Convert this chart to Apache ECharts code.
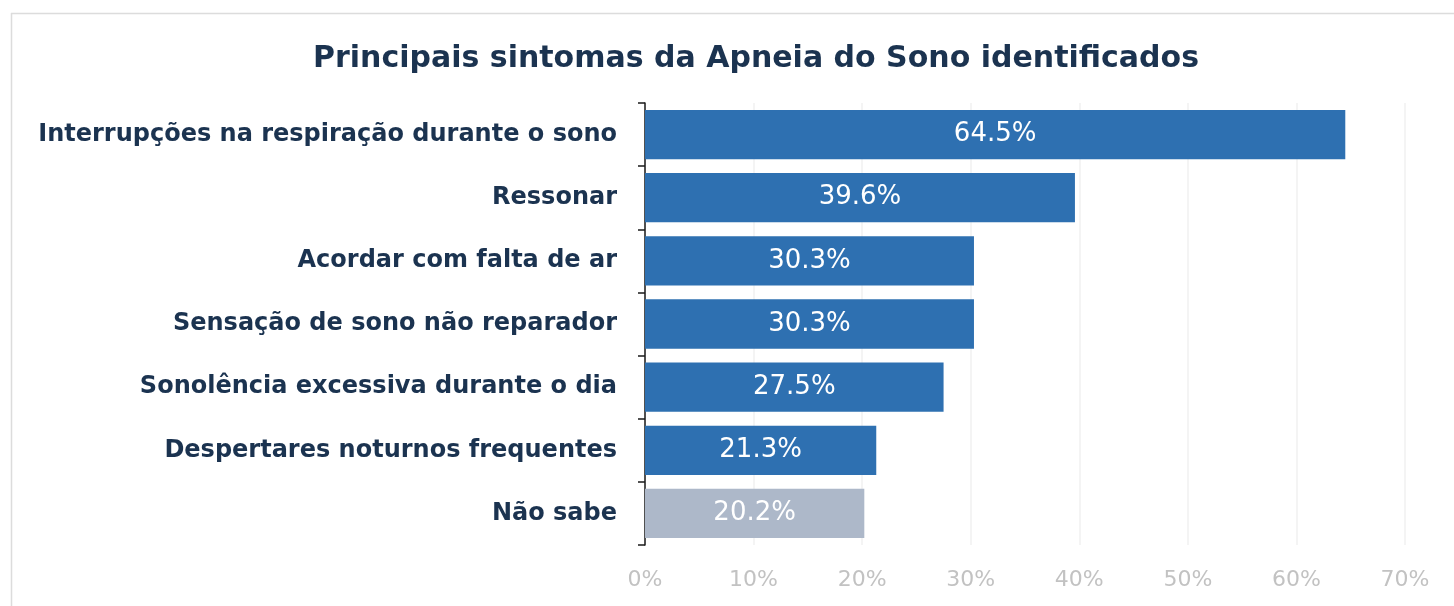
<!DOCTYPE html>
<html>
<head>
<meta charset="utf-8">
<script src="https://cdn.jsdelivr.net/npm/echarts@6/dist/echarts.min.js"></script>
<style>
  html, body { margin: 0; padding: 0; background: #ffffff; }
  #chart { width: 1454px; height: 606px; }
</style>
</head>
<body>
<div id="chart"></div>
<script>
// Symptoms reported, share of respondents (%)
const categories = [
  'Interrupções na respiração durante o sono',
  'Ressonar',
  'Acordar com falta de ar',
  'Sensação de sono não reparador',
  'Sonolência excessiva durante o dia',
  'Despertares noturnos frequentes',
  'Não sabe'
];
const values = [64.5, 39.6, 30.3, 30.3, 27.5, 21.3, 20.2];
const tickValues = [0, 10, 20, 30, 40, 50, 60, 70];

const blue = '#2e70b1';
const grey = '#adb8c9';
const font = 'DejaVu Sans';

const chart = echarts.init(document.getElementById('chart'), null, { renderer: 'canvas' });

chart.setOption({
  animation: false,
  backgroundColor: '#ffffff',
  title: {
    text: 'Principais sintomas da Apneia do Sono identificados',
    left: 751,
    textAlign: 'center',
    top: 39,
    textStyle: {
      fontFamily: font,
      fontWeight: 'bold',
      fontSize: 30,
      color: '#1b3350'
    }
  },
  graphic: [
    { type: 'line', shape: { x1: 11, y1: 13.5, x2: 1454, y2: 13.5 }, style: { stroke: '#dcdcdc', lineWidth: 1.5 } },
    { type: 'line', shape: { x1: 11.5, y1: 13, x2: 11.5, y2: 606 }, style: { stroke: '#dcdcdc', lineWidth: 1.5 } }
  ],
  grid: { left: 645, right: 49, top: 103, bottom: 61, containLabel: false },
  xAxis: {
    type: 'value',
    min: tickValues[0],
    max: tickValues[tickValues.length - 1],
    interval: 10,
    axisLine: { show: false },
    axisTick: { show: false },
    splitLine: { show: true, lineStyle: { color: '#f1f1f1', width: 1.5 } },
    axisLabel: {
      margin: 24,
      formatter: v => v + '%',
      fontFamily: font,
      fontSize: 22,
      color: '#c2c2c2'
    }
  },
  yAxis: {
    type: 'category',
    data: categories,
    inverse: true,
    axisLine: { show: true, lineStyle: { color: '#1a1a1a', width: 1.5 } },
    axisTick: { show: true, length: 7, lineStyle: { color: '#1a1a1a', width: 1.5 } },
    axisLabel: {
      margin: 28,
      fontFamily: font,
      fontWeight: 'bold',
      fontSize: 24,
      color: '#1b3350'
    }
  },
  series: [{
    type: 'bar',
    data: values.map((v, i) => ({
      value: v,
      itemStyle: { color: i === values.length - 1 ? grey : blue }
    })),
    barCategoryGap: '22%',
    label: {
      show: true,
      position: 'inside',
      formatter: p => p.value.toFixed(1) + '%',
      fontFamily: font,
      fontSize: 26,
      color: '#ffffff'
    }
  }]
});
</script>
</body>
</html>
